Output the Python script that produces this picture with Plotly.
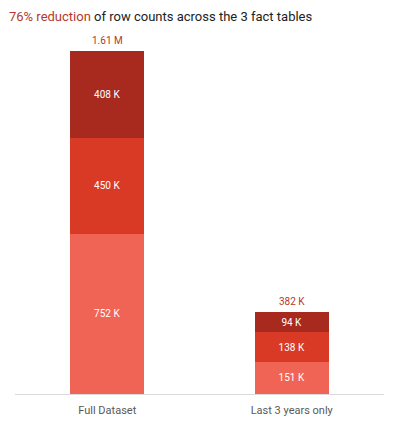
import plotly.graph_objects as go

categories = ["Full Dataset", "Last 3 years only"]
bottom_vals = [752, 151]
middle_vals = [450, 138]
top_vals = [408, 94]
total_labels = ["1.61 M", "382 K"]

colors = ["#F06455", "#D93A26", "#A8291E"]
FONT = "Roboto"

fig = go.Figure()
for vals, col in zip([bottom_vals, middle_vals, top_vals], colors):
    fig.add_trace(go.Bar(
        x=categories,
        y=vals,
        marker=dict(color=col, line_width=0),
        width=0.4,
        text=[f"{v} K" for v in vals],
        textposition="inside",
        insidetextanchor="middle",
        textfont=dict(color="white", size=10, family=FONT),
        hoverinfo="skip",
    ))

totals = [b + m + t for b, m, t in zip(bottom_vals, middle_vals, top_vals)]
for cat, tot, lab in zip(categories, totals, total_labels):
    fig.add_annotation(
        x=cat, y=tot, text=lab, showarrow=False,
        yanchor="bottom", yshift=3,
        font=dict(color="#B5382B", size=10, family=FONT),
    )

# title sits in the top margin
fig.add_annotation(
    xref="paper", yref="paper", x=-0.018, y=1.0, yshift=19,
    xanchor="left", yanchor="middle", showarrow=False, borderpad=0,
    text="<span style='color:#B5382B'>76% reduction</span> of row counts across the 3 fact tables",
    font=dict(color="#222222", size=13, family=FONT),
)

fig.update_layout(
    barmode="stack",
    width=401, height=424,
    margin=dict(l=7, r=25, t=27, b=38),
    plot_bgcolor="white", paper_bgcolor="white",
    showlegend=False,
    uniformtext=dict(mode="show", minsize=10),
    xaxis=dict(
        showline=True, linecolor="#D9D9D9", linewidth=1,
        ticks="", ticklabelstandoff=6,
        tickfont=dict(color="#595959", size=11, family=FONT),
        showgrid=False,
    ),
    yaxis=dict(range=[0, 1685], visible=False, showgrid=False, zeroline=False),
)

fig.write_html("out.html")
